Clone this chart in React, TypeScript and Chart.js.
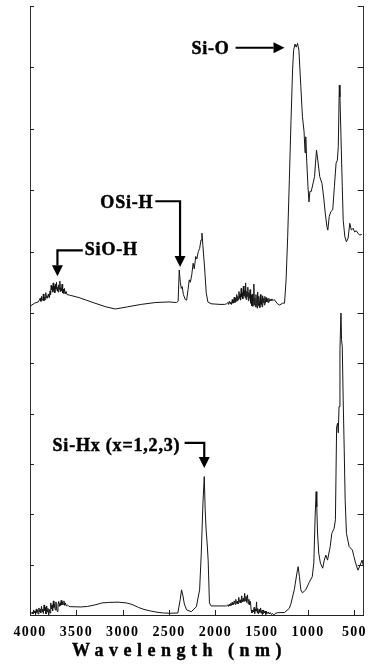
import React, { useEffect, useRef } from 'react';
import { Chart, registerables } from 'chart.js';

Chart.register(...registerables);

// x axis (wavenumber, labelled "Wavelength (nm)")
const xTickValues = [4000, 3500, 3000, 2500, 2000, 1500, 1000, 500];
const topTickValues = [0, 1, 2, 3, 4, 5];
const bottomTickValues = [0, 1, 2, 3, 4, 5, 6];
const xTitle = 'Wavelength (nm)';

// upper spectrum: [wavenumber, absorbance]
const topSpectrum: [number, number][] = [
  [4000, 0.11], [3950, 0.16], [3910, 0.18],
  [3890, 0.24], [3882, 0.19], [3876, 0.27], [3870, 0.21], [3862, 0.23], [3856, 0.31], [3850, 0.2], [3842, 0.26],
  [3838, 0.22], [3830, 0.33], [3824, 0.25], [3818, 0.28], [3810, 0.24], [3802, 0.31], [3796, 0.27], [3790, 0.25],
  [3784, 0.36], [3778, 0.3], [3772, 0.45], [3766, 0.38], [3760, 0.43], [3754, 0.34], [3750, 0.49], [3744, 0.37],
  [3738, 0.44], [3732, 0.33], [3726, 0.47], [3720, 0.39], [3714, 0.5], [3708, 0.36], [3702, 0.42], [3696, 0.34],
  [3690, 0.46], [3684, 0.38], [3678, 0.52], [3672, 0.35], [3666, 0.41], [3660, 0.36], [3654, 0.47], [3648, 0.33],
  [3642, 0.39], [3636, 0.32], [3628, 0.4], [3620, 0.31], [3610, 0.35], [3600, 0.3],
  [3570, 0.29], [3470, 0.25], [3300, 0.16], [3180, 0.1], [3080, 0.065], [2950, 0.1], [2800, 0.14], [2650, 0.17],
  [2500, 0.18], [2420, 0.17],
  [2402, 0.19], [2390, 0.7], [2378, 0.5], [2368, 0.4], [2358, 0.43], [2345, 0.3], [2325, 0.22], [2310, 0.21],
  [2295, 0.38], [2282, 0.54], [2270, 0.5], [2255, 0.62], [2240, 0.81], [2228, 0.72], [2212, 0.92], [2200, 0.88],
  [2184, 1.0], [2170, 1.05], [2155, 1.19], [2145, 1.3], [2135, 1.1], [2117, 0.75], [2099, 0.33], [2081, 0.18],
  [2046, 0.15], [1950, 0.14],
  [1900, 0.14], [1880, 0.15], [1866, 0.17], [1858, 0.14], [1850, 0.19], [1842, 0.15], [1834, 0.18], [1826, 0.14],
  [1818, 0.22], [1810, 0.16], [1802, 0.2], [1796, 0.26], [1790, 0.17], [1782, 0.24], [1776, 0.19], [1770, 0.3],
  [1764, 0.2], [1758, 0.27], [1752, 0.22], [1746, 0.35], [1740, 0.24], [1734, 0.31], [1728, 0.21], [1722, 0.4],
  [1716, 0.26], [1710, 0.33], [1704, 0.23], [1698, 0.44], [1692, 0.28], [1686, 0.37], [1680, 0.25], [1674, 0.49],
  [1668, 0.22], [1662, 0.35], [1656, 0.27], [1650, 0.42], [1644, 0.2], [1638, 0.33], [1632, 0.24], [1626, 0.38],
  [1620, 0.16], [1614, 0.29], [1608, 0.12], [1602, 0.31], [1596, 0.11], [1590, 0.22], [1585, 0.47], [1580, 0.13],
  [1574, 0.24], [1568, 0.1], [1562, 0.3], [1556, 0.15], [1550, 0.08], [1544, 0.34], [1538, 0.12], [1532, 0.27],
  [1526, 0.18], [1520, 0.09], [1514, 0.3], [1508, 0.14], [1502, 0.22], [1496, 0.1], [1490, 0.28], [1484, 0.17],
  [1478, 0.24], [1472, 0.13], [1466, 0.27], [1460, 0.16], [1452, 0.25], [1446, 0.18], [1440, 0.23], [1432, 0.17],
  [1424, 0.24], [1416, 0.19], [1408, 0.22], [1400, 0.2], [1390, 0.23], [1380, 0.2], [1368, 0.22], [1360, 0.21],
  [1330, 0.15], [1307, 0.13], [1275, 0.16], [1254, 0.16], [1237, 0.54],
  [1220, 1.24], [1202, 2.17], [1184, 3.14], [1167, 3.96], [1156, 4.28], [1141, 4.38], [1128, 4.33], [1114, 4.39],
  [1099, 4.28], [1078, 3.69], [1061, 3.2], [1043, 2.95], [1033, 2.61], [1025, 2.87], [1015, 2.49], [1001, 2.06],
  [990, 1.81], [980, 1.98], [966, 1.98], [945, 2.12], [930, 2.22], [920, 2.44], [909, 2.65], [895, 2.49],
  [874, 2.22], [850, 2.11], [832, 1.89], [815, 1.63], [797, 1.41], [787, 1.35], [772, 1.57], [755, 1.65],
  [734, 1.68], [716, 2.06], [698, 2.44], [684, 2.49], [674, 2.71], [663, 3.71], [656, 3.52], [645, 2.87],
  [631, 2.06], [621, 1.51], [603, 1.24], [586, 1.16], [568, 1.22], [550, 1.46], [533, 1.35], [515, 1.38],
  [497, 1.32], [480, 1.34], [462, 1.3], [444, 1.27], [420, 1.28],
];

// lower spectrum: [wavenumber, absorbance]
const bottomSpectrum: [number, number][] = [
  [4000, 0.02], [3985, 0.03], [3975, 0.06], [3968, 0.02], [3960, 0.1], [3954, 0.04], [3946, 0.08], [3940, 0.01],
  [3932, 0.12], [3926, 0.05], [3918, 0.09], [3912, 0.02], [3904, 0.14], [3898, 0.06], [3890, 0.11], [3884, 0.04],
  [3876, 0.17], [3870, 0.07], [3862, 0.12], [3856, 0.03], [3848, 0.2], [3842, 0.09], [3836, 0.15], [3828, 0.02],
  [3820, 0.18], [3812, 0.06], [3806, 0.13], [3798, 0.0], [3790, 0.11], [3784, 0.04], [3776, 0.24], [3770, 0.12],
  [3762, 0.2], [3756, 0.08], [3748, 0.28], [3742, 0.15], [3736, 0.22], [3728, 0.1], [3720, 0.26], [3714, 0.14],
  [3706, 0.07], [3698, 0.21], [3690, 0.27], [3684, 0.17], [3676, 0.24], [3670, 0.19], [3664, 0.29], [3656, 0.2],
  [3650, 0.26], [3642, 0.21], [3634, 0.28], [3626, 0.19], [3618, 0.24], [3608, 0.18], [3595, 0.2], [3580, 0.17],
  [3560, 0.165], [3450, 0.16], [3380, 0.17], [3300, 0.2], [3220, 0.24], [3150, 0.25], [3050, 0.255], [2960, 0.24],
  [2900, 0.21], [2830, 0.15], [2770, 0.11], [2700, 0.08], [2630, 0.055], [2560, 0.04], [2490, 0.035], [2405, 0.04],
  [2380, 0.3], [2365, 0.5], [2350, 0.38], [2335, 0.22], [2310, 0.1], [2260, 0.066], [2205, 0.165], [2170, 0.5],
  [2152, 1.23], [2134, 2.23], [2120, 2.75], [2110, 2.09], [2100, 1.69], [2089, 1.43], [2078, 1.09], [2064, 0.24],
  [2046, 0.18], [1890, 0.18],
  [1880, 0.18], [1868, 0.2], [1860, 0.17], [1852, 0.21], [1844, 0.18], [1836, 0.23], [1828, 0.19], [1820, 0.25],
  [1812, 0.2], [1804, 0.22], [1796, 0.28], [1788, 0.21], [1780, 0.31], [1772, 0.23], [1764, 0.27], [1756, 0.22],
  [1748, 0.35], [1740, 0.25], [1732, 0.3], [1724, 0.24], [1716, 0.38], [1708, 0.26], [1700, 0.33], [1692, 0.27],
  [1684, 0.43], [1676, 0.28], [1670, 0.37], [1662, 0.25], [1654, 0.4], [1646, 0.22], [1638, 0.31], [1630, 0.2],
  [1622, 0.27], [1614, 0.1], [1606, 0.04], [1598, 0.1], [1590, 0.06], [1582, 0.15], [1576, 0.03], [1570, 0.12],
  [1562, 0.08], [1556, 0.26], [1550, 0.05], [1544, 0.13], [1536, 0.02], [1528, 0.11], [1520, 0.05], [1512, 0.14],
  [1504, 0.03], [1496, 0.09], [1488, 0.02], [1480, 0.1], [1472, 0.04], [1464, 0.08], [1456, 0.01], [1448, 0.07],
  [1440, 0.03], [1430, 0.06], [1420, 0.02], [1408, 0.05], [1396, 0.01], [1384, 0.03], [1370, 0.0], [1355, 0.03],
  [1330, 0.046], [1254, 0.05], [1202, 0.133], [1184, 0.233], [1149, 0.5],
  [1120, 0.835], [1107, 0.96], [1093, 0.76], [1078, 0.5], [1061, 0.44], [1025, 0.5], [990, 0.64], [955, 0.76],
  [938, 1.03], [924, 1.95], [913, 2.45], [906, 2.15], [898, 1.63], [885, 1.23], [867, 1.03], [842, 0.93],
  [825, 1.09], [808, 1.19], [790, 1.09], [761, 1.36], [744, 1.62], [719, 1.72], [705, 1.89], [692, 3.74],
  [681, 3.81], [674, 3.62], [666, 4.14], [656, 5.27], [645, 6.03], [639, 5.47], [631, 5.33], [621, 4.27],
  [610, 3.28], [600, 2.29], [586, 1.62], [557, 1.36], [522, 1.29], [505, 1.16], [487, 1.03], [462, 0.89],
  [438, 0.99], [417, 1.09], [402, 0.96],
];

const bandLabels = ['Si-O', 'OSi-H', 'SiO-H', 'Si-Hx (x=1,2,3)'];

type Note = {
  text: string;
  axis: string;
  textAt: [number, number];
  align: CanvasTextAlign;
  path: [number, number][];
};

const notes: Note[] = [
  { text: bandLabels[0], axis: 'yTop', textAt: [2258, 4.3], align: 'left', path: [[1782, 4.32], [1254, 4.32]] },
  { text: bandLabels[1], axis: 'yTop', textAt: [2669, 1.78], align: 'right', path: [[2648, 1.82], [2381, 1.82], [2381, 0.75]] },
  { text: bandLabels[2], axis: 'yTop', textAt: [3409, 1.02], align: 'left', path: [[3430, 1.02], [3704, 1.02], [3704, 0.6]] },
  { text: bandLabels[3], axis: 'yBot', textAt: [3757, 3.36], align: 'left', path: [[2332, 3.42], [2120, 3.42], [2120, 2.92]] },
];

const FONT = "'Liberation Serif', 'Times New Roman', serif";

const decorPlugin = {
  id: 'decor',
  beforeDraw(chart: any) {
    chart.ctx.letterSpacing = '1.3px';
  },
  afterDraw(chart: any) {
    const ctx = chart.ctx as CanvasRenderingContext2D;
    const xs = chart.scales.x;
    ctx.save();
    (ctx as any).letterSpacing = '0px';
    ctx.strokeStyle = '#222';
    ctx.lineWidth = 1;
    // inward tick marks
    ctx.beginPath();
    for (const id of ['yTop', 'yBot', 'yTopR', 'yBotR']) {
      const s = chart.scales[id];
      const isLeft = s.options.position === 'left';
      const bx = isLeft ? s.right : s.left;
      const len = isLeft ? 4 : -6;
      s.ticks.forEach((t: any) => {
        const py = Math.round(s.getPixelForValue(t.value)) + 0.5;
        ctx.moveTo(bx, py);
        ctx.lineTo(bx + len, py);
      });
    }
    xs.ticks.forEach((t: any) => {
      const px = Math.round(xs.getPixelForValue(t.value)) + 0.5;
      ctx.moveTo(px, xs.top);
      ctx.lineTo(px, xs.top - 5);
    });
    ctx.stroke();

    // axis title
    ctx.fillStyle = '#000';
    ctx.strokeStyle = '#000';
    (ctx as any).letterSpacing = '5.5px';
    ctx.font = `bold 18px ${FONT}`;
    ctx.textAlign = 'left';
    ctx.textBaseline = 'middle';
    ctx.lineWidth = 0.4;
    const tx = chart.chartArea.left + 42;
    const ty = xs.bottom - 13;
    ctx.fillText(xTitle, tx, ty);
    ctx.strokeText(xTitle, tx, ty);

    // band annotations
    for (const n of notes) {
      const ys = chart.scales[n.axis];
      const pts = n.path.map(([w, v]) => [xs.getPixelForValue(w), ys.getPixelForValue(v)]);
      const tip = pts[pts.length - 1];
      const prev = pts[pts.length - 2];
      const dx = tip[0] - prev[0];
      const dy = tip[1] - prev[1];
      const len = Math.hypot(dx, dy) || 1;
      const ux = dx / len, uy = dy / len;
      const headL = 11, headW = 5.5;
      const bxp = tip[0] - ux * headL, byp = tip[1] - uy * headL;
      ctx.lineWidth = 2.2;
      ctx.lineJoin = 'miter';
      ctx.beginPath();
      ctx.moveTo(pts[0][0], pts[0][1]);
      for (let i = 1; i < pts.length - 1; i++) ctx.lineTo(pts[i][0], pts[i][1]);
      ctx.lineTo(bxp, byp);
      ctx.stroke();
      ctx.beginPath();
      ctx.moveTo(tip[0], tip[1]);
      ctx.lineTo(bxp - uy * headW, byp + ux * headW);
      ctx.lineTo(bxp + uy * headW, byp - ux * headW);
      ctx.closePath();
      ctx.fill();

      (ctx as any).letterSpacing = '0.8px';
      ctx.font = `bold 18px ${FONT}`;
      ctx.textAlign = n.align;
      ctx.textBaseline = 'middle';
      ctx.lineWidth = 0.5;
      const lx = xs.getPixelForValue(n.textAt[0]);
      const ly = ys.getPixelForValue(n.textAt[1]);
      ctx.fillText(n.text, lx, ly);
      ctx.strokeText(n.text, lx, ly);
    }
    ctx.restore();
    (ctx as any).letterSpacing = '0px';
  },
};

function yAxis(position: 'left' | 'right', max: number, ticks: number[], weight: number, stackWeight: number, width: number) {
  return {
    type: 'linear' as const,
    position,
    stack: position === 'left' ? 'L' : 'R',
    stackWeight,
    weight,
    min: 0,
    max,
    afterBuildTicks: (s: any) => {
      s.ticks = ticks.map((v) => ({ value: v }));
    },
    afterFit: (s: any) => {
      s.width = width;
    },
    grid: { display: false, drawTicks: false },
    border: { display: true, color: '#333', width: 1 },
    ticks: { display: false },
  };
}

export default function App() {
  const ref = useRef<HTMLCanvasElement | null>(null);

  useEffect(() => {
    const canvas = ref.current;
    if (!canvas) return;
    const lineStyle = {
      borderColor: '#151515',
      borderWidth: 1,
      pointRadius: 0,
      tension: 0,
      fill: false,
      xAxisID: 'x',
    };
    const chart = new Chart(canvas, {
      type: 'line',
      data: {
        datasets: [
          { ...lineStyle, yAxisID: 'yTop', data: topSpectrum.map(([x, y]) => ({ x, y })) },
          { ...lineStyle, yAxisID: 'yBot', data: bottomSpectrum.map(([x, y]) => ({ x, y })) },
        ],
      },
      options: {
        responsive: false,
        animation: false,
        events: [],
        layout: { padding: { top: 6, left: 0, right: 0, bottom: 0 } },
        plugins: {
          legend: { display: false },
          tooltip: { enabled: false },
          title: { display: false },
        },
        scales: {
          x: {
            type: 'linear',
            position: 'bottom',
            min: 400,
            max: 4000,
            reverse: true,
            afterBuildTicks: (s: any) => {
              s.ticks = xTickValues.map((v) => ({ value: v }));
            },
            afterFit: (s: any) => {
              s.height = 49;
            },
            grid: { display: false, drawTicks: false },
            border: { display: true, color: '#222', width: 1 },
            ticks: {
              padding: 9,
              color: '#000',
              autoSkip: false,
              maxRotation: 0,
              font: { family: FONT, size: 14, weight: 'bold' },
              callback: (v: any) => String(v),
            },
            title: { display: false },
          },
          yTop: yAxis('left', 5, topTickValues, 2, 307, 30),
          yBot: yAxis('left', 6, bottomTickValues, 1, 302, 30),
          yTopR: yAxis('right', 5, topTickValues, 1, 307, 3),
          yBotR: yAxis('right', 6, bottomTickValues, 2, 302, 3),
        } as any,
      },
      plugins: [decorPlugin],
    });
    return () => chart.destroy();
  }, []);

  return (
    <canvas
      ref={ref}
      width={374}
      height={664}
      style={{ position: 'fixed', left: 0, top: 0, width: 374, height: 664, display: 'block', background: '#fff' }}
    />
  );
}
